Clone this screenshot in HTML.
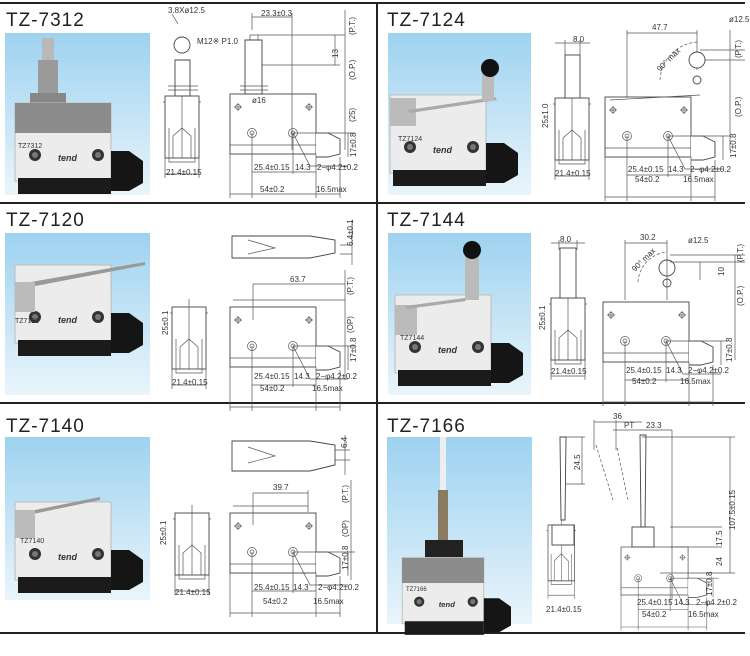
<!DOCTYPE html>
<html><head><meta charset="utf-8"><style>
html,body{margin:0;padding:0;background:#fff}
svg{display:block}
text{font-family:"Liberation Sans",sans-serif;fill:#333}
.t{font-size:19px;fill:#222;letter-spacing:1px}
.d{font-size:8px}
.l{stroke:#555;stroke-width:0.7;fill:none}
.b{stroke:#444;stroke-width:0.9;fill:#fff}
</style></head><body>
<svg width="750" height="656" viewBox="0 0 750 656" xmlns="http://www.w3.org/2000/svg">
<defs>
<linearGradient id="bg" x1="0" y1="0" x2="0" y2="1"><stop offset="0" stop-color="#9dd2f0"/><stop offset="1" stop-color="#eaf5fb"/></linearGradient>
<g id="side">
<rect class="b" x="0" y="0" width="86" height="60"/>
<line class="l" x1="0" y1="51" x2="86" y2="51"/>
<path class="b" d="M86,39 L98,39 L110,45 L110,60 L98,63 L86,63"/>
<circle class="l" cx="22" cy="39" r="4.5"/><circle class="l" cx="22" cy="39" r="2"/>
<circle class="l" cx="63" cy="39" r="4.5"/><circle class="l" cx="63" cy="39" r="2"/>
<circle class="l" cx="8" cy="13" r="2.5"/><path class="l" d="M4,13H12M8,9V17"/>
<circle class="l" cx="79" cy="13" r="2.5"/><path class="l" d="M75,13H83M79,9V17"/>
<path class="l" d="M22,39V104M63,39V80M0,60V104M86,60V104M110,63V104M22,78H86M0,100H110M63,39L80,72H118M63,39H125M118,39V63"/>
</g>
<g id="end">
<rect class="b" x="0" y="0" width="34" height="62"/>
<path class="l" d="M4,32V66H30V32M8,40L17,32L26,40V62H8Z M-2,6H0M34,6H36M17,-8V62"/>
<path class="l" d="M0,62V82M34,62V82M0,78H34"/>
</g>
<g id="ph">
<rect x="12" y="70" width="96" height="78" fill="#ececec" stroke="#bbb"/>
<rect x="15" y="145" width="93" height="16" fill="#1b1b1b"/>
<path d="M108,118 H126 L140,128 V150 L126,158 H108Z" fill="#151515"/>
<circle cx="32" cy="122" r="6" fill="#333"/><circle cx="32" cy="122" r="3" fill="#777"/>
<circle cx="95" cy="122" r="6" fill="#333"/><circle cx="95" cy="122" r="3" fill="#777"/>
<text x="55" y="128" style="font-size:9px;font-weight:bold;font-style:italic" fill="#222">tend</text>
</g>
</defs>

<path d="M0,3H745M0,203H745M0,403H745M0,633H745M377,3V633" stroke="#222" stroke-width="2" fill="none"/>

<text class="t" x="6" y="26">TZ-7312</text>
<text class="t" x="387" y="26">TZ-7124</text>
<text class="t" x="6" y="226">TZ-7120</text>
<text class="t" x="387" y="226">TZ-7144</text>
<text class="t" x="6" y="432">TZ-7140</text>
<text class="t" x="387" y="432">TZ-7166</text>

<rect x="5" y="33" width="145" height="162" fill="url(#bg)"/>
<rect x="388" y="33" width="143" height="162" fill="url(#bg)"/>
<rect x="5" y="233" width="145" height="162" fill="url(#bg)"/>
<rect x="388" y="233" width="143" height="162" fill="url(#bg)"/>
<rect x="5" y="437" width="145" height="163" fill="url(#bg)"/>
<rect x="387" y="437" width="145" height="187" fill="url(#bg)"/>

<rect x="42" y="38" width="12" height="25" fill="#b9b9b9"/><rect x="38" y="60" width="20" height="35" fill="#9a9a9a"/>
<rect x="30" y="93" width="36" height="10" fill="#888"/>
<use href="#ph" x="3" y="33"/>
<rect x="15" y="103" width="96" height="30" fill="#8c8c8c"/>
<text x="18" y="148" style="font-size:7px">TZ7312</text>

<use href="#ph" x="378" y="25"/>
<rect x="390" y="98" width="26" height="28" fill="#bbb"/><path d="M408,110 L495,97 L497,100 L410,113Z" fill="#aaa"/>
<rect x="482" y="73" width="12" height="28" fill="#bbb"/><circle cx="490" cy="68" r="9" fill="#111"/>
<text x="398" y="141" style="font-size:7px">TZ7124</text>

<use href="#ph" x="3" y="195"/>
<path d="M25,283 L145,262 L145,265 L30,287Z" fill="#999"/><rect x="15" y="282" width="20" height="30" fill="#bbb"/>
<text x="15" y="323" style="font-size:7px">TZ7120</text>

<use href="#ph" x="383" y="225"/>
<rect x="395" y="305" width="22" height="30" fill="#bbb"/><path d="M405,306 L465,298 L466,301 L407,309Z" fill="#aaa"/>
<rect x="465" y="255" width="14" height="45" fill="#bbb"/><circle cx="472" cy="250" r="9" fill="#111"/>
<text x="400" y="340" style="font-size:7px">TZ7144</text>

<use href="#ph" x="3" y="432"/>
<path d="M25,512 L100,497 L100,500 L28,515Z" fill="#999"/><rect x="15" y="510" width="20" height="28" fill="#bbb"/>
<text x="20" y="543" style="font-size:7px">TZ7140</text>

<rect x="440" y="437" width="6" height="55" fill="#eee"/><rect x="438" y="490" width="10" height="52" fill="#8a7a60"/>
<rect x="425" y="540" width="38" height="25" fill="#222"/>
<g transform="translate(392,498) scale(0.85)"><use href="#ph"/></g>
<rect x="402" y="558" width="82" height="25" fill="#8c8c8c"/>
<text x="406" y="591" style="font-size:6px">TZ7166</text>

<use href="#side" x="230" y="94"/>
<use href="#end" x="165" y="96"/>
<path class="b" d="M245,40 H262 V94 H245Z"/><path class="l" d="M240,86H268M240,90H268M250,40V35H258V40"/>
<path class="b" d="M175,60 H190 V96 H175Z"/><circle class="b" cx="182" cy="45" r="8"/><path class="l" d="M168,86H198M168,90H198"/>
<path class="l" d="M258,35H345M262,65H340M252,13V30M292,13V150M252,17H292M335,35V65M345,10V150M178,24L172,14"/>
<text class="d" x="168" y="13">3.8Xø12.5</text><text class="d" x="261" y="16">23.3±0.3</text>
<text class="d" x="197" y="44">M12※ P1.0</text><text class="d" x="252" y="103">ø16</text>
<text class="d" transform="translate(338,58) rotate(-90)">13</text>
<text class="d" transform="translate(355,35) rotate(-90)">(P.T.)</text>
<text class="d" transform="translate(355,80) rotate(-90)">(O.P.)</text>
<text class="d" transform="translate(355,122) rotate(-90)">(25)</text>
<text class="d" transform="translate(356,157) rotate(-90)">17±0.8</text>
<text class="d" x="254" y="170">25.4±0.15</text><text class="d" x="295" y="170">14.3</text><text class="d" x="317" y="170">2−φ4.2±0.2</text>
<text class="d" x="260" y="192">54±0.2</text><text class="d" x="316" y="192">16.5max</text>
<text class="d" x="166" y="175">21.4±0.15</text>

<use href="#side" x="605" y="97"/>
<use href="#end" x="555" y="98"/>
<rect class="b" x="565" y="55" width="15" height="43"/><path class="l" d="M555,43H590M565,40V55M580,40V55"/>
<path class="l" d="M610,100 L700,95 M627,97V30 M697,30V70 M627,33H697 M700,50H745 M700,60H745 M730,30V150"/>
<circle class="b" cx="697" cy="60" r="8"/><circle class="b" cx="697" cy="80" r="4"/>
<path class="l" d="M660,80 A40,40 0 0 1 697,42" stroke-dasharray="3,2"/>
<text class="d" x="652" y="30">47.7</text><text class="d" x="573" y="42">8.0</text><text class="d" x="729" y="22">ø12.5</text>
<text class="d" transform="translate(660,72) rotate(-45)">90° max</text>
<text class="d" transform="translate(548,128) rotate(-90)">25±1.0</text>
<text class="d" transform="translate(741,58) rotate(-90)">(P.T.)</text>
<text class="d" transform="translate(741,117) rotate(-90)">(O.P.)</text>
<text class="d" transform="translate(736,158) rotate(-90)">17±0.8</text>
<text class="d" x="628" y="172">25.4±0.15</text><text class="d" x="668" y="172">14.3</text><text class="d" x="690" y="172">2−φ4.2±0.2</text>
<text class="d" x="635" y="182">54±0.2</text><text class="d" x="683" y="182">16.5max</text>
<text class="d" x="555" y="176">21.4±0.15</text>

<use href="#side" x="230" y="307"/>
<use href="#end" x="172" y="307"/>
<path class="b" d="M232,236 H310 L335,240 V253 L310,258 H232Z"/><path class="l" d="M248,240L275,248L248,254 M352,220V265 M340,245H352M340,254H352"/>
<path class="l" d="M233,300 L345,300 M253,284H345M253,284V320 M345,270V380"/>
<text class="d" x="290" y="282">63.7</text>
<text class="d" transform="translate(353,246) rotate(-90)">6.4±0.1</text>
<text class="d" transform="translate(353,295) rotate(-90)">(P.T.)</text>
<text class="d" transform="translate(353,333) rotate(-90)">(OP)</text>
<text class="d" transform="translate(356,362) rotate(-90)">17±0.8</text>
<text class="d" transform="translate(168,335) rotate(-90)">25±0.1</text>
<text class="d" x="254" y="379">25.4±0.15</text><text class="d" x="294" y="379">14.3</text><text class="d" x="316" y="379">2−φ4.2±0.2</text>
<text class="d" x="260" y="391">54±0.2</text><text class="d" x="312" y="391">16.5max</text>
<text class="d" x="172" y="385">21.4±0.15</text>

<use href="#side" x="603" y="302"/>
<use href="#end" x="551" y="298"/>
<rect class="b" x="560" y="248" width="16" height="50"/><path class="l" d="M551,243H585M559,240V250M577,240V250"/>
<circle class="b" cx="667" cy="268" r="8"/><circle class="b" cx="667" cy="283" r="4"/>
<path class="l" d="M625,300V240M667,240V300M625,243H667M670,255H745M670,262H745M700,262V280 M735,255V360"/>
<path class="l" d="M638,282 A32,32 0 0 1 667,252" stroke-dasharray="3,2"/>
<text class="d" x="640" y="240">30.2</text><text class="d" x="560" y="242">8.0</text><text class="d" x="688" y="243">ø12.5</text>
<text class="d" transform="translate(635,272) rotate(-45)">90° max</text>
<text class="d" transform="translate(545,330) rotate(-90)">25±0.1</text>
<text class="d" transform="translate(743,262) rotate(-90)">(P.T.)</text>
<text class="d" transform="translate(743,306) rotate(-90)">(O.P.)</text>
<text class="d" transform="translate(724,276) rotate(-90)">10</text>
<text class="d" transform="translate(732,362) rotate(-90)">17±0.8</text>
<text class="d" x="626" y="373">25.4±0.15</text><text class="d" x="666" y="373">14.3</text><text class="d" x="688" y="373">2−φ4.2±0.2</text>
<text class="d" x="632" y="384">54±0.2</text><text class="d" x="680" y="384">16.5max</text>
<text class="d" x="551" y="374">21.4±0.15</text>

<use href="#side" x="230" y="513"/>
<use href="#end" x="175" y="513"/>
<path class="b" d="M232,441 H310 L335,445 V465 L310,471 H232Z"/><path class="l" d="M248,447L275,456L248,463 M345,435V475 M335,450H350M335,460H350"/>
<path class="l" d="M233,506 L308,506 M253,493H308M253,493V525 M308,490V512 M351,480V580"/>
<text class="d" x="273" y="490">39.7</text>
<text class="d" transform="translate(347,448) rotate(-90)">6.4</text>
<text class="d" transform="translate(348,503) rotate(-90)">(P.T.)</text>
<text class="d" transform="translate(348,537) rotate(-90)">(OP)</text>
<text class="d" transform="translate(348,570) rotate(-90)">17±0.8</text>
<text class="d" transform="translate(166,545) rotate(-90)">25±0.1</text>
<text class="d" x="254" y="590">25.4±0.15</text><text class="d" x="293" y="590">14.3</text><text class="d" x="318" y="590">2−φ4.2±0.2</text>
<text class="d" x="263" y="604">54±0.2</text><text class="d" x="313" y="604">16.5max</text>
<text class="d" x="175" y="595">21.4±0.15</text>

<g transform="translate(621,547) scale(0.78,0.8)"><use href="#side"/></g>
<g transform="translate(548,525) scale(0.78,0.9)"><use href="#end"/></g>
<rect class="b" x="552" y="525" width="22" height="20"/>
<path class="b" d="M560,437 L566,437 L565,520 L561,520Z"/>
<rect class="b" x="632" y="527" width="22" height="20"/>
<path class="b" d="M640,435 L646,435 L645,527 L641,527Z"/>
<path class="l" d="M566,437H585M566,484H585M582,437V484 M594,420V450 M616,420V450 M594,422H642 M613,430H672 M672,430V600 M642,437H735M660,573H735M730,437V573 M670,527H722M670,547H722"/>
<path class="l" d="M596,445 L613,500 M617,448 L628,500" stroke-dasharray="3,2"/>
<text class="d" x="613" y="419">36</text><text class="d" x="624" y="428">PT</text><text class="d" x="646" y="428">23.3</text>
<text class="d" transform="translate(580,470) rotate(-90)">24.5</text>
<text class="d" transform="translate(735,530) rotate(-90)">107.5±0.15</text>
<text class="d" transform="translate(722,546) rotate(-90)">17.5</text>
<text class="d" transform="translate(722,566) rotate(-90)">24</text>
<text class="d" transform="translate(712,596) rotate(-90)">17±0.8</text>
<text class="d" x="637" y="605">25.4±0.15</text><text class="d" x="674" y="605">14.3</text><text class="d" x="696" y="605">2−φ4.2±0.2</text>
<text class="d" x="642" y="617">54±0.2</text><text class="d" x="688" y="617">16.5max</text>
<text class="d" x="546" y="612">21.4±0.15</text>
</svg>
</body></html>
